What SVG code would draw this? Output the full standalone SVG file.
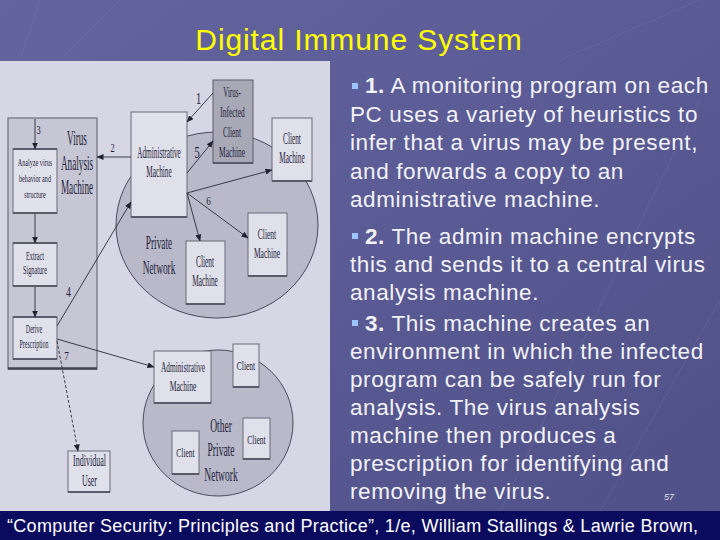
<svg xmlns="http://www.w3.org/2000/svg" width="720" height="540" viewBox="0 0 720 540">
<defs>
<linearGradient id="bg" x1="0" y1="0" x2="1" y2="1">
<stop offset="0" stop-color="#6464a0"/>
<stop offset="1" stop-color="#505088"/>
</linearGradient>
<marker id="ah" markerWidth="7" markerHeight="6" refX="6.5" refY="3" orient="auto" markerUnits="userSpaceOnUse">
<path d="M0,0 L7,3 L0,6 z" fill="#222230"/>
</marker>
<style>
.dt{font-family:"Liberation Serif","Times New Roman",serif;fill:#1e1e3c;text-anchor:middle}
.num{font-family:"Liberation Serif","Times New Roman",serif;fill:#1e1e3c;text-anchor:middle}
.box{fill:#e0e0ea;stroke:#6a6a7a;stroke-width:1}
.edge{stroke:#5a5a6a;stroke-width:2}
.con{fill:none;stroke:#2a2a38;stroke-width:0.9;marker-end:url(#ah)}
.net{stroke:#4a4a58;stroke-width:1;fill:#b9b9c9}
.body{font-family:"Liberation Sans",Arial,sans-serif;font-size:22.5px;letter-spacing:0.6px;fill:#f2f2f6}
.bul{fill:#9cc4ff}
</style>
</defs>
<rect x="0" y="0" width="720" height="540" fill="url(#bg)"/>
<g stroke="#7a7ab0" stroke-width="1" opacity="0.35" fill="none">
<path d="M40,0 L0,120 M120,0 L60,60 M560,60 L700,0 M600,511 L720,300 M500,511 L700,100"/>
</g>
<text x="359" y="50" text-anchor="middle" font-family="'Liberation Sans',Arial,sans-serif" font-size="30" letter-spacing="0.9" fill="#ffff00">Digital Immune System</text>

<rect x="0" y="61" width="330" height="450" fill="#d6d6e4"/>

<g id="private-network"><ellipse class="net" cx="217" cy="225" rx="101" ry="93"/>
<text class="dt" font-size="19" transform="translate(159,249) scale(0.49,1)">Private</text>
<text class="dt" font-size="19" transform="translate(159,274) scale(0.49,1)">Network</text></g>
<g id="other-network"><ellipse class="net" cx="218" cy="423" rx="75" ry="73"/>
<text class="dt" font-size="18" transform="translate(221,432) scale(0.53,1)">Other</text>
<text class="dt" font-size="18" transform="translate(221,456) scale(0.53,1)">Private</text>
<text class="dt" font-size="18" transform="translate(221,481) scale(0.53,1)">Network</text></g>

<g id="virus-analysis-machine">
<rect x="8" y="118" width="89" height="251" fill="#c6c6d4" stroke="#5a5a68" stroke-width="1"/>
<line x1="8" y1="368.5" x2="97" y2="368.5" stroke="#444452" stroke-width="2.5"/>
<text class="dt" font-size="20" transform="translate(77,145) scale(0.46,1)">Virus</text>
<text class="dt" font-size="20" transform="translate(77,170) scale(0.46,1)">Analysis</text>
<text class="dt" font-size="20" transform="translate(77,194) scale(0.46,1)">Machine</text>
</g>
<g id="analyze"><rect class="box" x="13" y="149" width="44" height="64"/><line class="edge" x1="13" y1="149" x2="57" y2="149"/><line class="edge" x1="13" y1="213" x2="57" y2="213"/>
<text class="dt" font-size="10" transform="translate(35,166) scale(0.615,1)">Analyze virus</text>
<text class="dt" font-size="10" transform="translate(35,182) scale(0.615,1)">behavior and</text>
<text class="dt" font-size="10" transform="translate(35,198) scale(0.615,1)">structure</text></g>
<g id="extract"><rect class="box" x="13" y="243" width="44" height="43"/><line class="edge" x1="13" y1="243" x2="57" y2="243"/><line class="edge" x1="13" y1="286" x2="57" y2="286"/>
<text class="dt" font-size="12" transform="translate(35,260) scale(0.52,1)">Extract</text>
<text class="dt" font-size="12" transform="translate(35,274) scale(0.52,1)">Signature</text></g>
<g id="derive"><rect class="box" x="13" y="317" width="44" height="42"/><line class="edge" x1="13" y1="317" x2="57" y2="317"/><line class="edge" x1="13" y1="359" x2="57" y2="359"/>
<text class="dt" font-size="12" transform="translate(34,333) scale(0.5,1)">Derive</text>
<text class="dt" font-size="12" transform="translate(34,348) scale(0.5,1)">Prescription</text></g>

<g id="admin"><rect class="box" x="131" y="112" width="56" height="105"/><line class="edge" x1="131" y1="217" x2="187" y2="217"/>
<text class="dt" font-size="16" transform="translate(159,158) scale(0.455,1)">Administrative</text>
<text class="dt" font-size="16" transform="translate(159,177) scale(0.455,1)">Machine</text></g>
<g id="infected-client"><rect x="213" y="80" width="40" height="83" fill="#a8a8b6" stroke="#5a5a68" stroke-width="1"/><line class="edge" x1="213" y1="163" x2="253" y2="163"/>
<text class="dt" font-size="14" transform="translate(232,97) scale(0.5,1)">Virus-</text>
<text class="dt" font-size="14" transform="translate(232.5,117) scale(0.53,1)">Infected</text>
<text class="dt" font-size="14" transform="translate(232,137) scale(0.53,1)">Client</text>
<text class="dt" font-size="14" transform="translate(232,157) scale(0.53,1)">Machine</text></g>
<g id="client-tr"><rect class="box" x="272" y="118" width="40" height="63"/><line class="edge" x1="272" y1="181" x2="312" y2="181"/>
<text class="dt" font-size="16" transform="translate(292,144) scale(0.455,1)">Client</text>
<text class="dt" font-size="16" transform="translate(292,163) scale(0.455,1)">Machine</text></g>
<g id="client-mid"><rect class="box" x="248" y="213" width="39" height="63"/><line class="edge" x1="248" y1="276" x2="287" y2="276"/>
<text class="dt" font-size="15" transform="translate(267,239) scale(0.5,1)">Client</text>
<text class="dt" font-size="15" transform="translate(267,258) scale(0.5,1)">Machine</text></g>
<g id="client-bottom"><rect class="box" x="186" y="241" width="39" height="63"/><line class="edge" x1="186" y1="304" x2="225" y2="304"/>
<text class="dt" font-size="16" transform="translate(205,267) scale(0.46,1)">Client</text>
<text class="dt" font-size="16" transform="translate(205,286) scale(0.46,1)">Machine</text></g>
<g id="individual-user"><rect class="box" x="68" y="451" width="42" height="41"/><line class="edge" x1="68" y1="492" x2="110" y2="492"/>
<text class="dt" font-size="17" transform="translate(89.5,466) scale(0.47,1)">Individual</text>
<text class="dt" font-size="17" transform="translate(89.5,486) scale(0.47,1)">User</text></g>
<g id="other-admin"><rect class="box" x="154" y="351" width="57" height="52"/><line class="edge" x1="154" y1="403" x2="211" y2="403"/>
<text class="dt" font-size="15" transform="translate(183,372) scale(0.49,1)">Administrative</text>
<text class="dt" font-size="15" transform="translate(183,391) scale(0.51,1)">Machine</text></g>
<g id="client-other-top"><rect class="box" x="233" y="344" width="26" height="43"/><line class="edge" x1="233" y1="387" x2="259" y2="387"/>
<text class="dt" font-size="13" transform="translate(246,370) scale(0.58,1)">Client</text></g>
<g id="client-other-right"><rect class="box" x="243" y="418" width="27" height="41"/><line class="edge" x1="243" y1="459" x2="270" y2="459"/>
<text class="dt" font-size="13" transform="translate(256.5,444) scale(0.58,1)">Client</text></g>
<g id="client-other-left"><rect class="box" x="172" y="431" width="27" height="43"/><line class="edge" x1="172" y1="474" x2="199" y2="474"/>
<text class="dt" font-size="13" transform="translate(185.5,457) scale(0.58,1)">Client</text></g>

<g id="connectors">
<path class="con" d="M35,119 L35,149"/>
<path class="con" d="M35,214 L35,243"/>
<path class="con" d="M35,287 L35,317"/>
<path class="con" d="M131,157 L97,157"/>
<path class="con" d="M213,93 L187,122"/>
<path class="con" d="M187,173 L213,141"/>
<path class="con" d="M187,193 L272,170"/>
<path class="con" d="M187,193 L248,238"/>
<path class="con" d="M187,193 L200,241"/>
<path class="con" d="M57,326 L131,202"/>
<path class="con" d="M57,339 L154,367"/>
<path class="con" d="M57,341 L78,451" stroke-dasharray="3,2"/>
<text class="num" font-size="12" transform="translate(38.5,134) scale(0.7,1)">3</text>
<text class="num" font-size="12" transform="translate(112.5,152) scale(0.7,1)">2</text>
<text class="num" font-size="16" transform="translate(198.5,104) scale(0.65,1)">1</text>
<text class="num" font-size="16" transform="translate(197,158) scale(0.65,1)">5</text>
<text class="num" font-size="13" transform="translate(208.5,205) scale(0.7,1)">6</text>
<text class="num" font-size="15" transform="translate(68.5,297) scale(0.65,1)">4</text>
<text class="num" font-size="13" transform="translate(66.5,360) scale(0.7,1)">7</text>
</g>

<g id="bullets">
<rect class="bul" x="352" y="83" width="6" height="6"/>
<rect class="bul" x="352" y="233" width="6" height="6"/>
<rect class="bul" x="352" y="320" width="6" height="6"/>
<text class="body" x="365" y="93"><tspan font-weight="bold">1.</tspan> A monitoring program on each</text>
<text class="body" x="350" y="122">PC uses a variety of heuristics to</text>
<text class="body" x="350" y="150">infer that a virus may be present,</text>
<text class="body" x="350" y="179">and forwards a copy to an</text>
<text class="body" x="350" y="207">administrative machine.</text>
<text class="body" x="365" y="244"><tspan font-weight="bold">2.</tspan> The admin machine encrypts</text>
<text class="body" x="350" y="272">this and sends it to a central virus</text>
<text class="body" x="350" y="300">analysis machine.</text>
<text class="body" x="365" y="331"><tspan font-weight="bold">3.</tspan> This machine creates an</text>
<text class="body" x="350" y="359">environment in which the infected</text>
<text class="body" x="350" y="387">program can be safely run for</text>
<text class="body" x="350" y="415">analysis. The virus analysis</text>
<text class="body" x="350" y="443">machine then produces a</text>
<text class="body" x="350" y="471">prescription for identifying and</text>
<text class="body" x="350" y="499">removing the virus.</text>
<text x="664" y="500" font-family="'Liberation Sans',Arial,sans-serif" font-size="9" font-style="italic" fill="#e0e0ea">57</text>
</g>

<rect x="0" y="511" width="720" height="29" fill="#0a0a5e"/>
<text x="7" y="532" font-family="'Liberation Sans',Arial,sans-serif" font-size="18" fill="#ffffff" textLength="691" lengthAdjust="spacing">“Computer Security: Principles and Practice”, 1/e, William Stallings &amp; Lawrie Brown,</text>
</svg>
